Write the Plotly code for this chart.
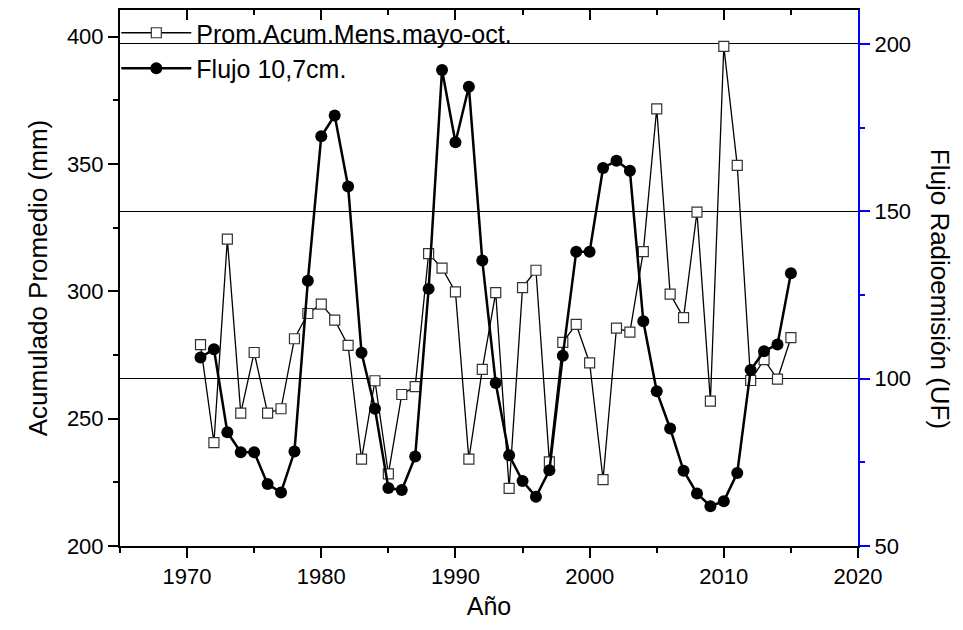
import plotly.graph_objects as go

years = list(range(1971, 2016))

prom_acum = [279.1, 240.6, 320.5, 252.2, 276.0, 252.2, 253.9, 281.4, 291.3, 295.0,
             288.7, 278.8, 234.1, 264.9, 228.3, 259.5, 262.6, 314.8, 309.1, 299.8,
             234.1, 269.4, 299.5, 222.6, 301.5, 308.3, 233.0, 280.0, 287.0, 271.9,
             226.1, 285.6, 284.0, 315.6, 371.7, 298.9, 289.7, 331.1, 256.9, 396.2,
             349.5, 265.0, 273.2, 265.5, 281.8]

flujo = [106.3, 108.8, 84.0, 78.0, 78.0, 68.5, 66.0, 78.2, 129.2, 172.4,
         178.6, 157.4, 107.7, 91.0, 67.3, 66.7, 76.7, 126.8, 192.2, 170.6,
         187.2, 135.3, 98.7, 77.1, 69.4, 64.7, 72.6, 106.8, 137.9, 137.9,
         162.9, 165.1, 162.1, 117.1, 96.2, 85.1, 72.5, 65.7, 61.9, 63.4,
         71.8, 102.6, 108.2, 110.2, 131.5]

name_prom = "Prom.Acum.Mens.mayo-oct."
name_flujo = "Flujo 10,7cm."

FONT = "Liberation Sans, Arial, sans-serif"

fig = go.Figure()

fig.add_trace(go.Scatter(
    x=years, y=prom_acum, name=name_prom, mode="lines+markers",
    line=dict(color="black", width=1.3),
    marker=dict(symbol="square", size=10, color="white",
                line=dict(color="#333333", width=1.2)),
    xaxis="x", yaxis="y"))

fig.add_trace(go.Scatter(
    x=years, y=flujo, name=name_flujo, mode="lines+markers",
    line=dict(color="black", width=2.5),
    marker=dict(symbol="circle", size=12, color="black"),
    xaxis="x", yaxis="y2"))

# helper trace so the top mirror axis is drawn
fig.add_trace(go.Scatter(
    x=[years[0]], y=[prom_acum[0]], mode="markers", marker=dict(opacity=0),
    hoverinfo="skip", showlegend=False, xaxis="x2", yaxis="y"))

xr = [1965, 2020]

fig.update_layout(
    width=963, height=630,
    margin=dict(l=120, r=105, t=8, b=84),
    paper_bgcolor="white", plot_bgcolor="white",
    font=dict(family=FONT, color="black", size=22),
    showlegend=True,
    legend=dict(x=-0.005, y=1.0, xanchor="left", yanchor="top",
                bgcolor="rgba(0,0,0,0)", font=dict(size=25, family=FONT),
                itemwidth=70, tracegroupgap=0),
    xaxis=dict(range=xr, tick0=1970, dtick=10, ticks="outside", ticklen=10,
               tickwidth=2, tickcolor="black",
               minor=dict(ticks="outside", ticklen=5, dtick=5, tickwidth=2,
                          tickcolor="black"),
               showline=True, linecolor="black", linewidth=2, mirror=True,
               showgrid=False, zeroline=False,
               tickfont=dict(size=22),
               title=dict(text="Año", font=dict(size=25), standoff=9)),
    xaxis2=dict(range=xr, overlaying="x", side="top", tick0=1970, dtick=10,
                ticks="inside", ticklen=10, tickwidth=2, tickcolor="black",
                minor=dict(ticks="inside", ticklen=5, dtick=5, tickwidth=2,
                           tickcolor="black"),
                showline=True, linecolor="black", linewidth=2,
                showticklabels=False, showgrid=False, zeroline=False),
    yaxis=dict(range=[200, 410.5], tick0=200, dtick=50, ticks="outside",
               ticklen=10, tickwidth=2, tickcolor="black",
               minor=dict(ticks="outside", ticklen=5, dtick=25, tickwidth=2,
                          tickcolor="black"),
               showline=True, linecolor="black", linewidth=2,
               showgrid=False, zeroline=False,
               tickfont=dict(size=22),
               title=dict(text="Acumulado Promedio (mm)", font=dict(size=26),
                          standoff=12)),
    yaxis2=dict(range=[50, 210.1], overlaying="y", side="right", tick0=50,
                dtick=50, ticks="outside", ticklen=10, tickwidth=2,
                tickcolor="blue",
                minor=dict(ticks="outside", ticklen=5, dtick=25, tickwidth=2,
                           tickcolor="blue"),
                showline=True, linecolor="blue", linewidth=2,
                showgrid=True, gridcolor="black", gridwidth=1,
                zeroline=False, tickfont=dict(size=22, color="black")),
    annotations=[dict(text="Flujo Radioemisión (UF)", xref="paper", yref="paper",
                      x=1.111, y=0.48, xanchor="center", yanchor="middle",
                      textangle=90, showarrow=False,
                      font=dict(size=26, family=FONT, color="black"))],
)

fig.write_html("out.html", config={"displayModeBar": False},
               post_script="document.body.style.margin='0';")
